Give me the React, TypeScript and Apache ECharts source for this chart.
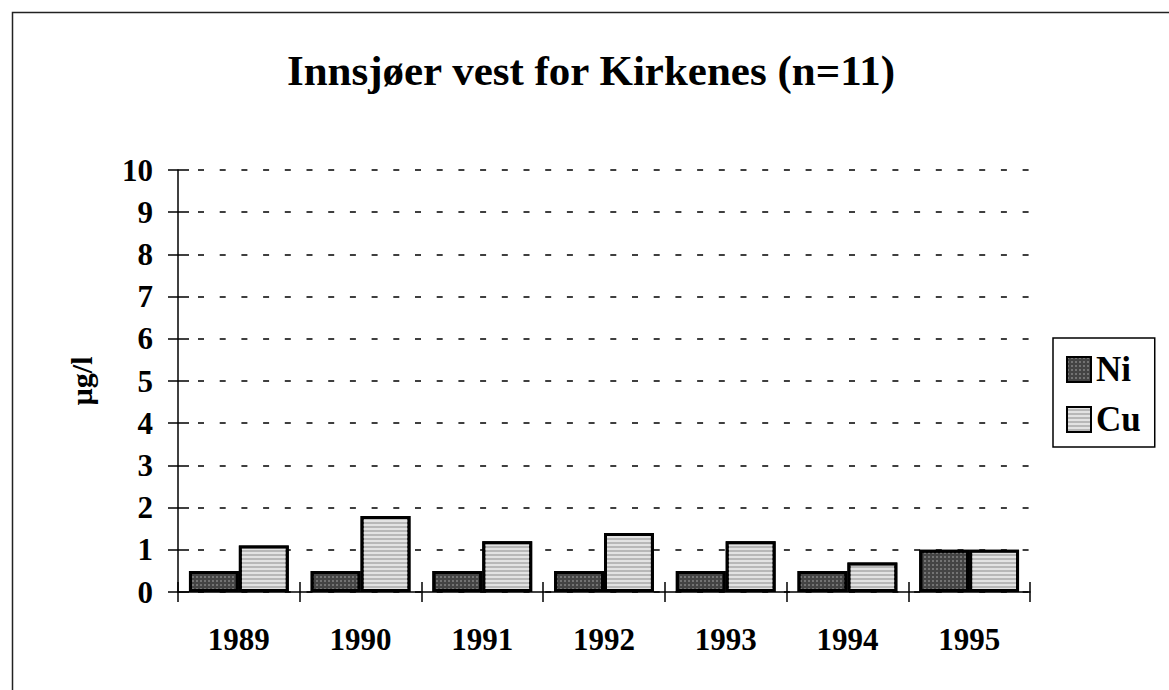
import React, { useEffect, useRef } from "react";
import * as echarts from "echarts";

const years = ["1989", "1990", "1991", "1992", "1993", "1994", "1995"];
const niValues = [0.5, 0.5, 0.5, 0.5, 0.5, 0.5, 1.0];
const cuValues = [1.1, 1.8, 1.2, 1.4, 1.2, 0.7, 1.0];
const yRange = { min: 0, max: 10, interval: 1 };

const FONT = "'Liberation Serif', 'Times New Roman', serif";

export default function App() {
  const ref = useRef<HTMLDivElement>(null);
  useEffect(() => {
    if (!ref.current) return;
    const chart = echarts.init(ref.current, undefined, { renderer: "svg" });
    const tickStyle = { color: "#000", width: 1.5 };
    // grid line style: a short solid inner tick, then a dash pattern
    const gridDash: number[] = [11, 9];
    for (let i = 0; i < 45; i++) gridDash.push(6, 15.7);
    const gridHeight = 690 - 170 - 98;
    const xInnerTick = [0, gridHeight - 10, 10, 2000];
    chart.setOption({
      animation: false,
      backgroundColor: "#fff",
      title: {
        text: "Innsjøer vest for Kirkenes (n=11)",
        left: 586,
        textAlign: "center",
        top: 44,
        textStyle: { fontFamily: FONT, fontWeight: "bold", fontSize: 43, color: "#000" },
      },
      graphic: [
        {
          type: "rect",
          shape: { x: 12.5, y: 12.5, width: 1200, height: 700 },
          style: { fill: "none", stroke: "#222", lineWidth: 1.5 },
          silent: true,
        },
      ],
      legend: {
        orient: "vertical",
        left: 1053,
        top: 338,
        padding: [14, 14, 10, 13],
        borderColor: "#000",
        borderWidth: 1.5,
        itemWidth: 24,
        itemHeight: 25,
        itemGap: 15,
        icon: "rect",
        textStyle: { fontFamily: FONT, fontWeight: "bold", fontSize: 35, color: "#000" },
        data: ["Ni", "Cu"],
      },
      grid: { left: 178, right: 139, top: 170, bottom: 98, containLabel: false },
      xAxis: {
        type: "category",
        data: years,
        axisLine: { lineStyle: { color: "#000", width: 1.5 } },
        axisTick: { show: true, length: 10, lineStyle: tickStyle },
        axisLabel: {
          fontFamily: FONT,
          fontWeight: "bold",
          fontSize: 31,
          color: "#000",
          margin: 32,
        },
        splitLine: {
          show: true,
          lineStyle: { color: "#000", width: 1.5, type: xInnerTick },
        },
      },
      yAxis: {
        type: "value",
        min: yRange.min,
        max: yRange.max,
        interval: yRange.interval,
        name: "µg/l",
        nameLocation: "middle",
        nameGap: 82,
        nameRotate: 90,
        nameTextStyle: { fontFamily: FONT, fontWeight: "bold", fontSize: 30, color: "#000" },
        axisLine: { show: true, lineStyle: { color: "#000", width: 1.5 } },
        axisTick: { show: true, length: 10, lineStyle: tickStyle },
        axisLabel: {
          fontFamily: FONT,
          fontWeight: "bold",
          fontSize: 31,
          color: "#000",
          margin: 25,
        },
        splitLine: {
          show: true,
          lineStyle: { color: "#000", type: gridDash, width: 1.5 },
        },
      },
      series: [
        {
          name: "Ni",
          type: "bar",
          data: niValues,
          barGap: "0%",
          barCategoryGap: "18%",
          itemStyle: {
            color: "#444",
            borderColor: "#000",
            borderWidth: 3,
            decal: {
              symbol: "rect",
              symbolSize: 1,
              dashArrayX: [2, 2],
              dashArrayY: [2, 2],
              rotation: 0,
              color: "rgba(255,255,255,0.25)",
            },
          },
        },
        {
          name: "Cu",
          type: "bar",
          data: cuValues,
          barGap: "0%",
          barCategoryGap: "18%",
          itemStyle: {
            color: "#b8b8b8",
            borderColor: "#000",
            borderWidth: 3,
            decal: {
              symbol: "rect",
              symbolSize: 1,
              dashArrayX: [1, 0],
              dashArrayY: [2, 2],
              rotation: 0,
              color: "rgba(255,255,255,0.6)",
            },
          },
        },
      ],
    });
    return () => chart.dispose();
  }, []);
  return (
    <div
      ref={ref}
      style={{ position: "fixed", left: 0, top: 0, width: 1169, height: 690 }}
    />
  );
}
